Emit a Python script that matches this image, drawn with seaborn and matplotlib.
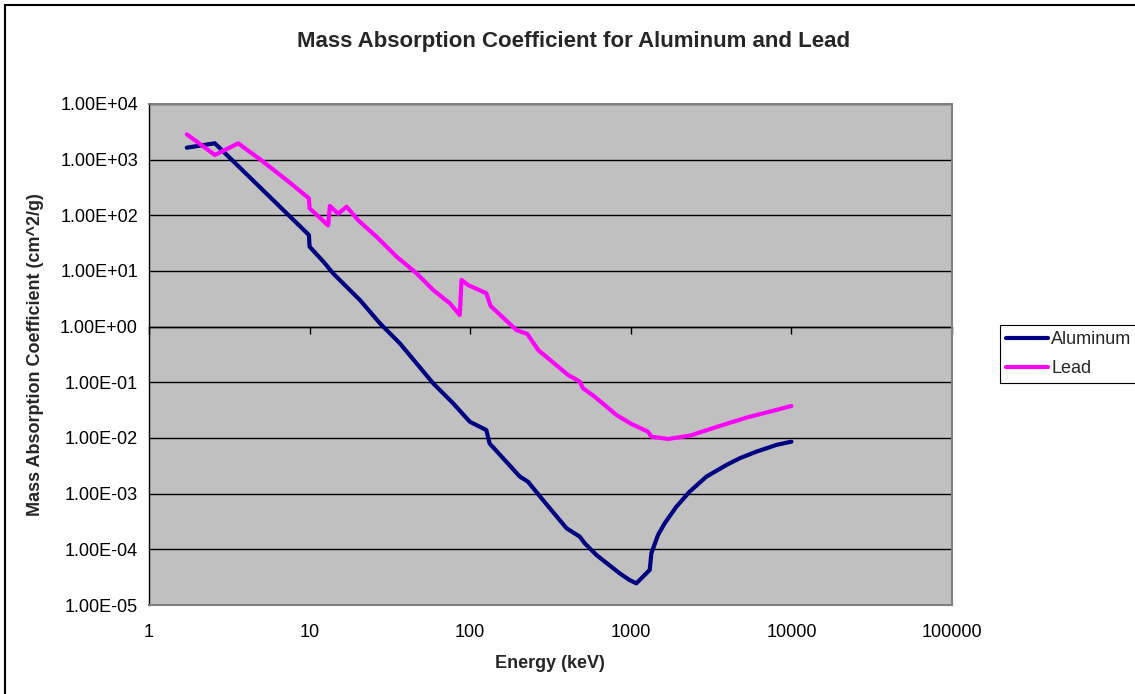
import numpy as np
import pandas as pd
import matplotlib.pyplot as plt
import matplotlib.ticker as mticker
from matplotlib.lines import Line2D
import seaborn as sns


# values (energy in keV, mu in cm^2/g)
al_energy = [1.72, 2.57, 9.9, 10.0, 12.2, 14.0, 15.4, 20.6, 27.4, 36.5,
             58.8, 78.3, 99.4, 126, 132, 204, 229, 278, 398, 481,
             517, 611, 853, 984, 1083, 1311, 1343, 1477, 1626, 1922,
             2326, 2954, 3935, 4761, 6047, 8054, 10000]
al_mu = [1640, 1970, 44.4, 27.3, 14.7, 9.1, 6.9, 3.0, 1.15, 0.50,
         0.096, 0.042, 0.0196, 0.0139, 0.0080, 0.00202, 0.00164, 0.000826, 0.000239, 0.000169,
         0.000128, 7.9e-5, 3.7e-5, 2.8e-5, 2.45e-5, 4.26e-5, 8.5e-5, 1.81e-4, 2.94e-4, 5.83e-4,
         1.09e-3, 2.02e-3, 3.27e-3, 4.32e-3, 5.68e-3, 7.5e-3, 8.6e-3]

pb_energy = [1.72, 2.57, 3.59, 4.91, 7.19, 9.9, 10.0, 13.05, 13.37, 15.07,
             17.0, 20.06, 26.1, 34.8, 46.3, 58.8, 74.7, 86.1, 88.3, 97.0,
             126, 134, 194, 227, 265, 407, 481, 504, 596, 814,
             1009, 1279, 1343, 1704, 2326, 3574, 5240, 7316, 10000]
pb_mu = [2855, 1213, 1967, 1016, 431, 202, 134, 65.7, 147, 107,
         143, 81.5, 41.3, 18.1, 9.1, 4.56, 2.63, 1.62, 6.9, 5.6,
         3.98, 2.35, 0.87, 0.74, 0.381, 0.1355, 0.103, 0.0782, 0.0552, 0.0259,
         0.01786, 0.0130, 0.01057, 0.0096, 0.0110, 0.01644, 0.0232, 0.0297, 0.0376]

x_ticks = [1, 10, 100, 1000, 10000, 100000]
y_ticks = [1e-5, 1e-4, 1e-3, 1e-2, 1e-1, 1e0, 1e1, 1e2, 1e3, 1e4]
colors = {"Aluminum": "#000080", "Lead": "#FF00FF"}

df = pd.concat([
    pd.DataFrame({"energy": al_energy, "mu": al_mu, "material": "Aluminum"}),
    pd.DataFrame({"energy": pb_energy, "mu": pb_mu, "material": "Lead"}),
], ignore_index=True)

sns.set_style("white")
plt.rcParams["font.family"] = ["Liberation Sans", "DejaVu Sans"]

W, H = 1135, 694
fig = plt.figure(figsize=(W / 100, H / 100), dpi=100)
ax = fig.add_axes([149 / W, 1 - 605 / H, (952 - 149) / W, (605 - 104) / H])
ax.set_facecolor("#C0C0C0")

sns.lineplot(data=df, x="energy", y="mu", hue="material", palette=colors,
             estimator=None, sort=False, linewidth=3, ax=ax, legend=False)

ax.set_xscale("log")
ax.set_yscale("log")
ax.set_xlim(1, 1e5)
ax.set_ylim(1e-5, 1e4)
ax.set_xlabel("")
ax.set_ylabel("")

ax.set_xticks(x_ticks)
ax.set_xticklabels([str(v) for v in x_ticks])
ax.xaxis.set_minor_locator(mticker.NullLocator())
ax.set_yticks(y_ticks)
ax.yaxis.set_major_formatter(mticker.FuncFormatter(lambda v, p: f"{v:.2E}"))
ax.yaxis.set_minor_locator(mticker.NullLocator())

ax.tick_params(axis="x", length=0, pad=14, labelsize=13, colors="black")
ax.tick_params(axis="y", direction="out", length=5, width=1, pad=3,
               labelsize=13, colors="black")
ax.yaxis.grid(True, color="black", linewidth=1)
ax.xaxis.grid(False)

for side in ["top", "right", "bottom"]:
    ax.spines[side].set_color("#808080")
    ax.spines[side].set_linewidth(1.5)
ax.spines["left"].set_color("black")
ax.spines["left"].set_linewidth(1)

# the category axis crosses the value axis at 1 (Excel default)
secax = ax.secondary_xaxis(5 / 9)
secax.set_xticks(x_ticks)
secax.xaxis.set_minor_locator(mticker.NullLocator())
secax.xaxis.set_ticks_position("bottom")
secax.tick_params(axis="x", direction="out", length=5, width=1, colors="black",
                  labelbottom=False, labeltop=False)
for sp in secax.spines.values():
    sp.set_color("black")
    sp.set_linewidth(1)

fig.text(574 / W, 1 - 41 / H, "Mass Absorption Coefficient for Aluminum and Lead",
         ha="center", va="center", fontsize=16, fontweight="bold")
fig.text(550 / W, 1 - 664 / H, "Energy (keV)", ha="center", va="center",
         fontsize=13, fontweight="bold")
fig.text(36 / W, 1 - 355 / H, "Mass Absorption Coefficient (cm^2/g)", ha="center",
         va="center", rotation=90, fontsize=13, fontweight="bold")

handles = [Line2D([], [], color=colors[k], linewidth=3) for k in colors]
leg = ax.legend(handles, list(colors), loc="upper left",
                bbox_to_anchor=(1000 / W, 1 - 325 / H), bbox_transform=fig.transFigure,
                frameon=True, fancybox=False, framealpha=1, edgecolor="black",
                fontsize=13, handlelength=2.3, handletextpad=0.2,
                labelspacing=0.65, borderpad=0.35, borderaxespad=0)
leg.get_frame().set_linewidth(0.8)

# chart-area border (cut off on the right and bottom in the original)
fig.add_artist(Line2D([5 / W, 5 / W], [0, 1 - 5 / H], transform=fig.transFigure,
                      color="black", linewidth=1.5))
fig.add_artist(Line2D([5 / W, 1], [1 - 5 / H, 1 - 5 / H], transform=fig.transFigure,
                      color="black", linewidth=1.5))

fig.savefig("out.png", dpi=100)
